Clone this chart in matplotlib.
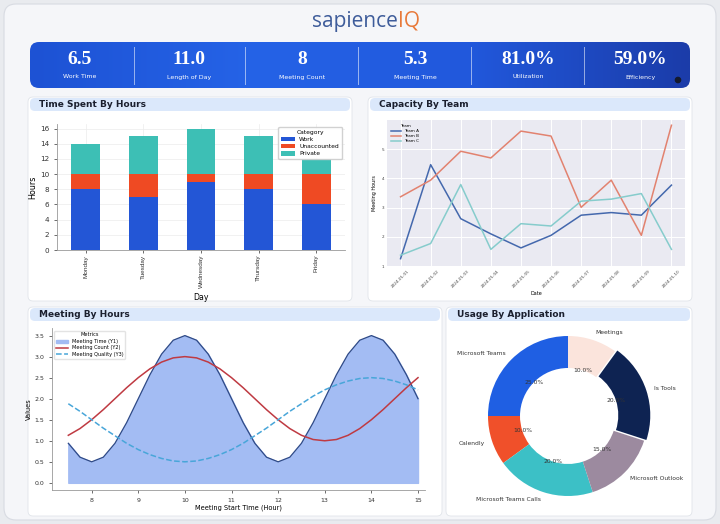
import matplotlib.pyplot as plt
from matplotlib.patches import FancyBboxPatch, Circle
from matplotlib.colors import LinearSegmentedColormap
import numpy as np

W, H = 720, 524

# KPI strip
kpi_values = ["6.5", "11.0", "8", "5.3", "81.0%", "59.0%"]
kpi_labels = ["Work Time", "Length of Day", "Meeting Count", "Meeting Time", "Utilization", "Efficiency"]

# Time spent by hours
days = ["Monday", "Tuesday", "Wednesday", "Thursday", "Friday"]
work = [8, 7, 9, 8, 6]
unaccounted = [2, 3, 1, 2, 4]
private = [4, 5, 6, 5, 2]

# Capacity by team
dates = ["2024-01-01", "2024-01-02", "2024-01-03", "2024-01-04", "2024-01-05",
         "2024-01-06", "2024-01-07", "2024-01-08", "2024-01-09", "2024-01-10"]
team_a = [1.25, 4.47, 2.62, 2.10, 1.62, 2.05, 2.74, 2.83, 2.74, 3.77]
team_b = [3.37, 3.94, 4.93, 4.70, 5.62, 5.45, 3.01, 3.94, 2.05, 5.82]
team_c = [1.37, 1.77, 3.79, 1.57, 2.45, 2.37, 3.22, 3.29, 3.48, 1.57]

# Meeting by hours (read every quarter hour)
hours = [7.5, 7.75, 8.0, 8.25, 8.5, 8.75, 9.0, 9.25, 9.5, 9.75, 10.0, 10.25, 10.5, 10.75,
         11.0, 11.25, 11.5, 11.75, 12.0, 12.25, 12.5, 12.75, 13.0, 13.25, 13.5, 13.75,
         14.0, 14.25, 14.5, 14.75, 15.0]
meeting_time = [0.94, 0.61, 0.50, 0.61, 0.94, 1.43, 2.00, 2.57, 3.06, 3.39, 3.50, 3.39, 3.06, 2.57,
                2.00, 1.43, 0.94, 0.61, 0.50, 0.61, 0.94, 1.43, 2.00, 2.57, 3.06, 3.39,
                3.50, 3.39, 3.06, 2.57, 2.00]
meeting_count = [1.13, 1.29, 1.50, 1.74, 2.00, 2.26, 2.50, 2.71, 2.87, 2.97, 3.00, 2.97, 2.87, 2.71,
                 2.50, 2.26, 2.00, 1.74, 1.50, 1.29, 1.13, 1.03, 1.00, 1.03, 1.13, 1.29,
                 1.50, 1.74, 2.00, 2.26, 2.50]
meeting_quality = [1.88, 1.70, 1.50, 1.30, 1.12, 0.94, 0.79, 0.67, 0.58, 0.52, 0.50, 0.52, 0.58, 0.67,
                   0.79, 0.94, 1.12, 1.30, 1.50, 1.70, 1.88, 2.06, 2.21, 2.33, 2.42, 2.48,
                   2.50, 2.48, 2.42, 2.33, 2.21]

# Usage by application
apps = ["Microsoft Teams", "Calendly", "Microsoft Teams Calls", "Microsoft Outlook", "Is Tools", "Meetings"]
usage = [25, 10, 20, 15, 20, 10]
app_colors = ["#1f5fe3", "#f0502a", "#3cc0c6", "#9c8a9f", "#0e2352", "#fbe4dc"]


def px_axes(l, t, r, b):
    return fig.add_axes([l / W, 1 - b / H, (r - l) / W, (b - t) / H])


def panel(l, t, r, b, title):
    bg.add_patch(FancyBboxPatch((l, t), r - l, b - t, boxstyle="round,pad=0,rounding_size=5",
                                fc="white", ec="#e1e4ea", lw=0.6))
    bg.add_patch(FancyBboxPatch((l + 2, t + 1), r - l - 4, 13, boxstyle="round,pad=0,rounding_size=5",
                                fc="#dbe8fb", ec="none"))
    bg.text(l + 11, t + 7.5, title, fontsize=6.5, fontweight="bold", color="#1b1f2e", va="center")


fig = plt.figure(figsize=(7.2, 5.24), dpi=100)
fig.patch.set_facecolor("#e9ebef")

bg = fig.add_axes([0, 0, 1, 1])
bg.axis("off")
bg.add_patch(FancyBboxPatch((4, 4), 712, 516, boxstyle="round,pad=0,rounding_size=12",
                            fc="#f5f6f9", ec="#d8dbe2", lw=0.8))

# logo
bg.text(398, 21, "sapience", fontsize=15, family="Open Sans", color="#3e5c9a", ha="right", va="center")
bg.text(398, 21, "IQ", fontsize=15, family="Open Sans", color="#e8793a", ha="left", va="center")

# KPI bar with gradient
kpi_box = FancyBboxPatch((30, 42), 660, 46, boxstyle="round,pad=0,rounding_size=9", fc="none", ec="none")
bg.add_patch(kpi_box)
cmap = LinearSegmentedColormap.from_list("kpi", ["#1d52d4", "#2563e7", "#2158dc", "#1b3ca9"])
im = bg.imshow(np.linspace(0, 1, 256)[None, :], cmap=cmap, extent=(30, 690, 88, 42), aspect="auto", zorder=1)
im.set_clip_path(kpi_box)

centers = [80, 189, 302, 415, 528, 640]
for i, (v, lab) in enumerate(zip(kpi_values, kpi_labels)):
    bg.text(centers[i], 60, v, fontsize=14, fontweight="bold", family="Liberation Serif",
            color="white", ha="center", va="center", zorder=3)
    bg.text(centers[i], 77, lab, fontsize=4.5, color="white", ha="center", va="center", zorder=3)
for sx in [134, 245, 358, 471, 584]:
    bg.plot([sx, sx], [47, 84], color="white", alpha=0.55, lw=0.7, zorder=3)
bg.add_patch(Circle((678, 80), 2.6, color="#141a2e", zorder=3))

panel(28, 97, 352, 301, "Time Spent By Hours")
panel(368, 97, 692, 301, "Capacity By Team")
panel(28, 307, 442, 516, "Meeting By Hours")
panel(446, 307, 692, 516, "Usage By Application")

bg.set_xlim(0, W)
bg.set_ylim(H, 0)

# --- Time spent by hours
ax1 = px_axes(57, 124, 345, 250)
x = np.arange(len(days))
ax1.bar(x, work, 0.5, color="#2356d6", label="Work", zorder=2)
ax1.bar(x, unaccounted, 0.5, bottom=work, color="#ef4a23", label="Unaccounted", zorder=2)
ax1.bar(x, private, 0.5, bottom=np.add(work, unaccounted), color="#3dbfb5", label="Private", zorder=2)
ax1.set_xlim(-0.5, 4.5)
ax1.set_ylim(0, 16.6)
ax1.set_yticks(range(0, 17, 2))
ax1.set_xticks(x, days, rotation=90, family="Liberation Sans")
ax1.tick_params(axis="y", labelsize=5.2, length=2, width=0.5, colors="#333333")
ax1.tick_params(axis="x", labelsize=4.6, length=2, width=0.5, pad=1.5, colors="#333333")
ax1.set_ylabel("Hours", fontsize=5.8, labelpad=2)
ax1.set_xlabel("Day", fontsize=5.6)
ax1.xaxis.set_label_coords(0.5, -0.345)
ax1.grid(True, color="#ececec", lw=0.5, zorder=0)
for s in ["top", "right"]:
    ax1.spines[s].set_visible(False)
for s in ["left", "bottom"]:
    ax1.spines[s].set_color("#999999")
    ax1.spines[s].set_linewidth(0.6)
ax1.legend(title="Category", fontsize=4.3, title_fontsize=4.3, loc="upper right",
           handlelength=2.2, handleheight=0.8, borderpad=0.5, labelspacing=0.3, framealpha=0.9)

# --- Capacity by team
ax2 = px_axes(387, 120, 685, 266)
ax2.set_facecolor("#eaeaf2")
xi = np.arange(len(dates))
ax2.plot(xi, team_a, color="#4468ad", lw=1.1, label="Team A")
ax2.plot(xi, team_b, color="#e2826f", lw=1.1, label="Team B")
ax2.plot(xi, team_c, color="#86cccc", lw=1.1, label="Team C")
ax2.set_ylim(1, 6)
ax2.set_yticks([1, 2, 3, 4, 5])
ax2.set_xticks(xi, dates, rotation=45)
ax2.tick_params(labelsize=3, length=0, colors="#444444", pad=2)
ax2.grid(True, color="white", lw=0.7)
ax2.set_axisbelow(True)
for s in ax2.spines.values():
    s.set_visible(False)
ax2.set_xlabel("Date", fontsize=3.5, labelpad=2)
ax2.set_ylabel("Meeting Hours", fontsize=3.5, labelpad=3)
ax2.legend(title="Team", fontsize=3, title_fontsize=3, loc="upper left", frameon=False,
           handlelength=2.5, labelspacing=0.3)

# --- Meeting by hours
ax3 = px_axes(52, 328, 425, 490)
ax3.fill_between(hours, meeting_time, color="#a3bcf3", label="Meeting Time (Y1)")
ax3.plot(hours, meeting_time, color="#2f4a86", lw=0.9)
ax3.plot(hours, meeting_count, color="#bf3a42", lw=1.1, label="Meeting Count (Y2)")
ax3.plot(hours, meeting_quality, color="#48a6d9", lw=1.1, ls="--", label="Meeting Quality (Y3)")
ax3.set_xlim(7.15, 15.15)
ax3.set_ylim(-0.17, 3.68)
ax3.set_xticks(range(8, 16))
ax3.set_yticks(np.arange(0, 3.6, 0.5))
ax3.set_yticklabels([f"{t:.1f}" for t in np.arange(0, 3.6, 0.5)])
ax3.tick_params(labelsize=4.5, length=2, width=0.5, colors="#333333")
ax3.set_xlabel("Meeting Start Time (Hour)", fontsize=4.8, labelpad=1)
ax3.set_ylabel("Values", fontsize=4.8, labelpad=2)
for s in ["top", "right"]:
    ax3.spines[s].set_visible(False)
for s in ["left", "bottom"]:
    ax3.spines[s].set_color("#999999")
    ax3.spines[s].set_linewidth(0.6)
ax3.legend(title="Metrics", fontsize=3.6, title_fontsize=3.6, loc="upper left",
           handlelength=2.2, labelspacing=0.3, framealpha=0.8, edgecolor="#dddddd")

# --- Usage by application
ax4 = px_axes(468, 316, 668, 516)
ax4.pie(usage, labels=apps, colors=app_colors, startangle=90, autopct="%1.1f%%",
        pctdistance=0.6, explode=[0, 0, 0, 0, 0.03, 0],
        wedgeprops=dict(width=0.4), textprops=dict(fontsize=4.3, color="#333333"))
ax4.set_xlim(-1.25, 1.25)
ax4.set_ylim(-1.25, 1.25)

fig.savefig("out.png", dpi=100, facecolor=fig.get_facecolor())
